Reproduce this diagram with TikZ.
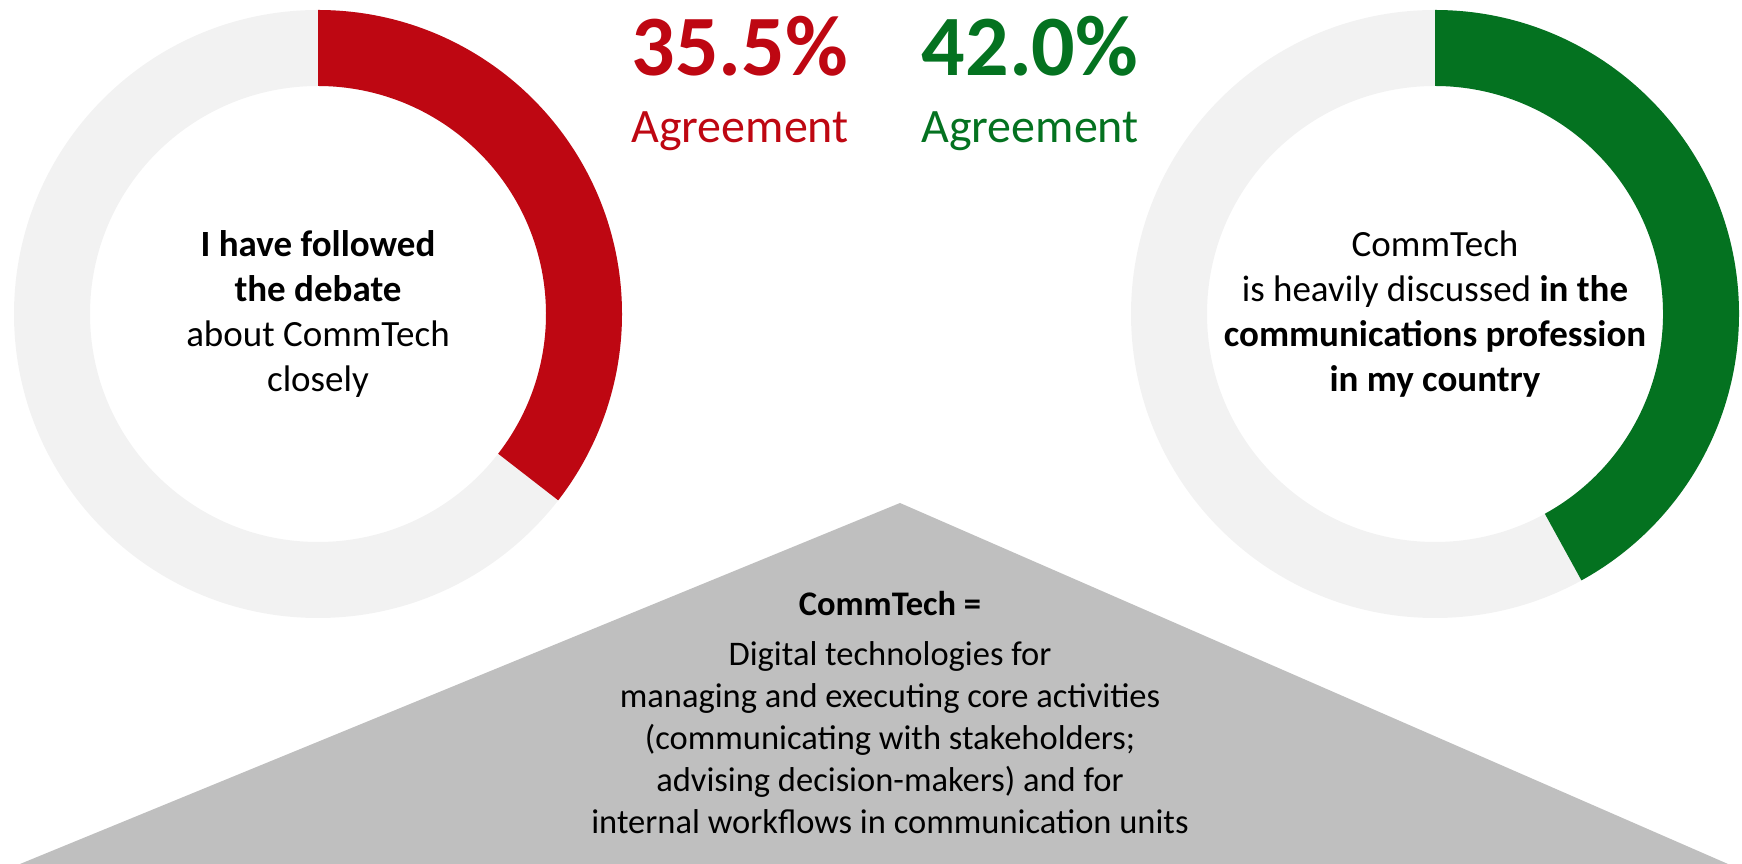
\documentclass[tikz,border=0pt]{standalone}
\usepackage{fontspec}
\setmainfont{Carlito}
\definecolor{agred}{RGB}{190,7,18}
\definecolor{aggreen}{RGB}{4,114,32}
\definecolor{ringgrey}{RGB}{242,242,242}
\definecolor{trigrey}{RGB}{191,191,191}
\tikzset{
  bigpct/.style={anchor=base,inner sep=0pt,font=\bfseries\fontsize{86}{86}\selectfont},
  agree/.style={anchor=base,inner sep=0pt,font=\fontsize{48}{48}\selectfont},
  ringtext/.style={align=center,inner sep=0pt,font=\fontsize{37}{45}\selectfont},
  tritext/.style={align=center,inner sep=0pt,font=\fontsize{34.5}{42}\selectfont},
}
\begin{document}
\begin{tikzpicture}[x=1pt,y=1pt]
\useasboundingbox (0,0) rectangle (1742,864);
\coordinate (L) at (318,550);
\coordinate (R) at (1435,550);
% rings
\fill[ringgrey,even odd rule] (L) circle[radius=304] (L) circle[radius=228];
\fill[ringgrey,even odd rule] (R) circle[radius=304] (R) circle[radius=228];
\fill[agred] ([shift={(L)}]90:304) arc[start angle=90,end angle=-37.8,radius=304]
  -- ([shift={(L)}]-37.8:228) arc[start angle=-37.8,end angle=90,radius=228] -- cycle;
\fill[aggreen] ([shift={(R)}]90:304) arc[start angle=90,end angle=-61.2,radius=304]
  -- ([shift={(R)}]-61.2:228) arc[start angle=-61.2,end angle=90,radius=228] -- cycle;
% triangle
\coordinate (apex) at (900,361);
\coordinate (bl) at (20,0);
\coordinate (br) at (1728,0);
\fill[trigrey] (bl) -- (apex) -- (br) -- cycle;
% percentages
\node[bigpct,text=agred] (p1) at (740,788) {35.5\%};
\node[agree,text=agred] (a1) at (740,721) {Agreement};
\node[bigpct,text=aggreen] (p2) at (1030,788) {42.0\%};
\node[agree,text=aggreen] (a2) at (1030,721) {Agreement};
% ring texts
\node[ringtext] (lt) at (L) {\textbf{I have followed}\\\textbf{the debate}\\about CommTech\\closely};
\node[ringtext] (rt) at (R) {CommTech\\is heavily discussed \textbf{in the}\\\textbf{communications profession}\\\textbf{in my country}};
% triangle text
\node[tritext,anchor=base,font=\bfseries\fontsize{34.5}{42}\selectfont] (tt) at (890,248) {CommTech =};
\node[tritext] (tb) at (890,126) {Digital technologies for\\managing and executing core activities\\(communicating with stakeholders;\\advising decision-makers) and for\\internal workflows in communication units};
\end{tikzpicture}
\end{document}
